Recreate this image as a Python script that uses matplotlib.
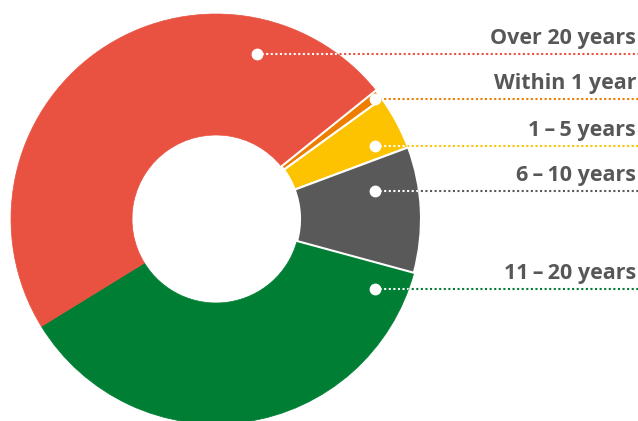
import matplotlib
matplotlib.use("Agg")
import matplotlib.pyplot as plt

# Data
categories = ["Within 1 year", "1 – 5 years", "6 – 10 years", "11 – 20 years", "Over 20 years"]
values = [0.8, 4.3, 9.9, 37.0, 48.0]
colors = ["#EE7D00", "#FDC300", "#595959", "#007E34", "#E95140"]

# Layout (pixel coords, y measured from top)
W, H = 638, 421
cx, cy_top, R = 216, 219, 205
hole = 84
label_y = {"Over 20 years": 54, "Within 1 year": 99, "1 – 5 years": 146,
           "6 – 10 years": 191, "11 – 20 years": 289}
dot_x = {"Over 20 years": 257, "Within 1 year": 375, "1 – 5 years": 375,
         "6 – 10 years": 375, "11 – 20 years": 375}

fig = plt.figure(figsize=(W / 100, H / 100), dpi=100)
ax = fig.add_axes([0, 0, 1, 1])

wedges, _ = ax.pie(values, colors=colors, startangle=38.8, counterclock=False,
                   center=(cx, H - cy_top), radius=R, frame=True,
                   wedgeprops=dict(width=R - hole, edgecolor="white", linewidth=1.5))
# the two large wedges meet without a white separator
for w, col in zip(wedges, colors):
    if col in ("#007E34", "#E95140"):
        w.set_edgecolor(col)
        w.set_linewidth(0.5)
        w.set_zorder(0.5)
    else:
        w.set_zorder(1)
ax.set_xlim(0, W)
ax.set_ylim(0, H)
ax.set_aspect("equal")
ax.axis("off")

for cat, w, col in zip(categories, wedges, colors):
    y = H - label_y[cat]
    x0 = dot_x[cat]
    ax.plot([x0, W], [y, y], color=col, lw=1.5, linestyle=(0, (1, 1.2)),
            dash_capstyle="butt", zorder=3)
    wl, = ax.plot([x0, W], [y, y], color="white", lw=1.5, linestyle=(0, (1, 1.2)),
                  dash_capstyle="butt", zorder=4)
    wl.set_clip_path(w)
    ax.plot([x0], [y], marker="o", ms=7.5, color="white", mec="white", zorder=5)
    ax.text(W - 2, y + 10, cat.replace(" – ", "\u2009–\u2009"), ha="right", va="baseline",
            fontsize=15.5, fontweight="bold", color="#575757",
            family=["Open Sans", "DejaVu Sans"], zorder=6)

fig.savefig("out.png", dpi=100)
